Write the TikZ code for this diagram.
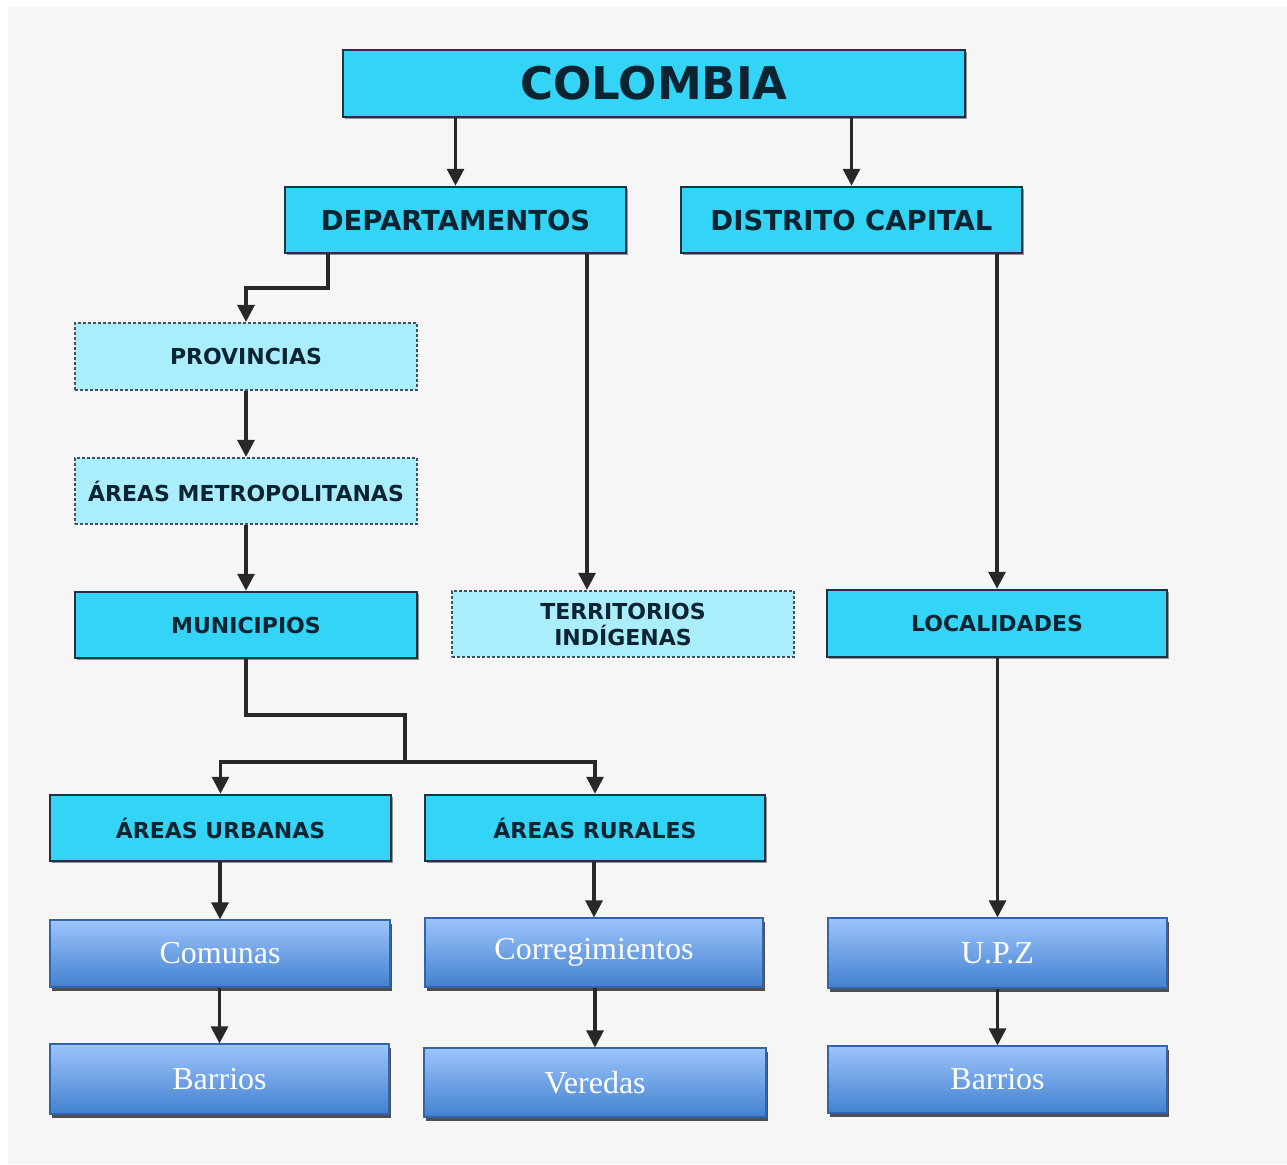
\documentclass[tikz,border=0pt]{standalone}
\usepackage{fontspec}
\setmainfont{Liberation Serif}
\newfontfamily\boxfont{DejaVu Sans}
\usetikzlibrary{arrows.meta,shadows}
\definecolor{bgray}{RGB}{246,246,246}
\definecolor{cyanA}{RGB}{52,212,246}
\definecolor{cyanL}{RGB}{170,238,252}
\definecolor{bordD}{RGB}{28,52,70}
\definecolor{txtD}{RGB}{12,35,50}
\definecolor{blueT}{RGB}{157,196,251}
\definecolor{blueB}{RGB}{66,129,207}
\definecolor{blueD}{RGB}{50,100,170}
\definecolor{lineD}{RGB}{40,40,40}
\begin{document}
\begin{tikzpicture}[x=1pt,y=-1pt,
  base/.style={rectangle,inner sep=0pt,align=center},
  cbox/.style={base,fill=cyanA,draw=bordD,line width=2.5pt,text=txtD,
    font=\boxfont\bfseries\fontsize{22}{26}\selectfont,
    drop shadow={shadow xshift=1.5pt,shadow yshift=-2pt,fill=black,opacity=.4}},
  dbox/.style={base,fill=cyanL,draw=bordD!85,line width=2.2pt,dash pattern=on 3pt off 2pt,text=txtD,
    font=\boxfont\bfseries\fontsize{22}{26}\selectfont},
  bbox/.style={base,top color=blueT,bottom color=blueB,draw=blueD,line width=1.2pt,text=white,
    font=\fontsize{32}{36}\selectfont,
    drop shadow={shadow xshift=2pt,shadow yshift=-3.5pt,fill=black!85,opacity=.8}},
  conn/.style={draw=lineD,line width=3.2pt},
  arr/.style={conn,-{Triangle[width=17pt,length=17pt]}}
]
\useasboundingbox (0,0) rectangle (1287,1164);
\fill[white] (0,0) rectangle (1287,1164);
\fill[bgray] (8,7) rectangle (1287,1164);

% top level
\node[cbox,minimum width=622pt,minimum height=67pt,font=\boxfont\bfseries\fontsize{45}{50}\selectfont] (col) at (654,83.5) {COLOMBIA};
\node[cbox,minimum width=341pt,minimum height=66pt,font=\boxfont\bfseries\fontsize{27.5}{30}\selectfont] (dep) at (455.5,220) {DEPARTAMENTOS};
\node[cbox,minimum width=341pt,minimum height=66pt,font=\boxfont\bfseries\fontsize{27.5}{30}\selectfont] (dis) at (851.5,220) {DISTRITO CAPITAL};

% middle
\node[dbox,minimum width=342pt,minimum height=67pt] (prov) at (246,356.5) {PROVINCIAS};
\node[dbox,minimum width=342pt,minimum height=66pt] (metro) at (246,491) {ÁREAS METROPOLITANAS};
\node[cbox,minimum width=342pt,minimum height=66pt] (mun) at (246,625) {MUNICIPIOS};
\node[dbox,minimum width=342pt,minimum height=66pt] (terr) at (623,624) {TERRITORIOS\\INDÍGENAS};
\node[cbox,minimum width=340pt,minimum height=67pt] (loc) at (997,623.5) {LOCALIDADES};

\node[cbox,minimum width=341pt,minimum height=66pt] (urb) at (220.5,828) {ÁREAS URBANAS};
\node[cbox,minimum width=340pt,minimum height=66pt] (rur) at (595,828) {ÁREAS RURALES};

% bottom
\node[bbox,minimum width=340pt,minimum height=67pt] (com) at (220,953.5) {Comunas};
\node[bbox,minimum width=338pt,minimum height=69pt] (corr) at (594,952.5) {Corregimientos};
\node[bbox,minimum width=339pt,minimum height=70pt] (upz) at (997.5,953) {U.P.Z};
\node[bbox,minimum width=339pt,minimum height=70pt] (bar1) at (219.5,1079) {Barrios};
\node[bbox,minimum width=342pt,minimum height=69pt] (ver) at (595,1082.5) {Veredas};
\node[bbox,minimum width=339pt,minimum height=67pt] (bar2) at (997.5,1079.5) {Barrios};

% connectors
\draw[arr] (dep.north |- col.south) -- (dep.north);
\draw[arr] (dis.north |- col.south) -- (dis.north);
\coordinate (d1) at (328,288);
\draw[arr] (dep.south -| d1) -- (d1) -| (prov.north);
\draw[arr] (prov.south) -- (metro.north);
\draw[arr] (metro.south) -- (mun.north);
\coordinate (d2) at (587,0);
\draw[arr] (dep.south -| d2) -- (terr.north -| d2);
\draw[arr] (dis.south -| loc.north) -- (loc.north);
\coordinate (m1) at (405,715);
\coordinate (j) at (405,762);
\draw[conn] (mun.south) |- (m1) -- (j);
\draw[arr] (j) -| (urb.north);
\draw[arr] (j) -| (rur.north);
\draw[arr] (urb.south -| com.north) -- (com.north);
\draw[arr] (com.south -| bar1.north) -- (bar1.north);
\draw[arr] (rur.south -| corr.north) -- (corr.north);
\draw[arr] (corr.south -| ver.north) -- (ver.north);
\draw[arr] (loc.south -| upz.north) -- (upz.north);
\draw[arr] (upz.south -| bar2.north) -- (bar2.north);
\end{tikzpicture}
\end{document}
